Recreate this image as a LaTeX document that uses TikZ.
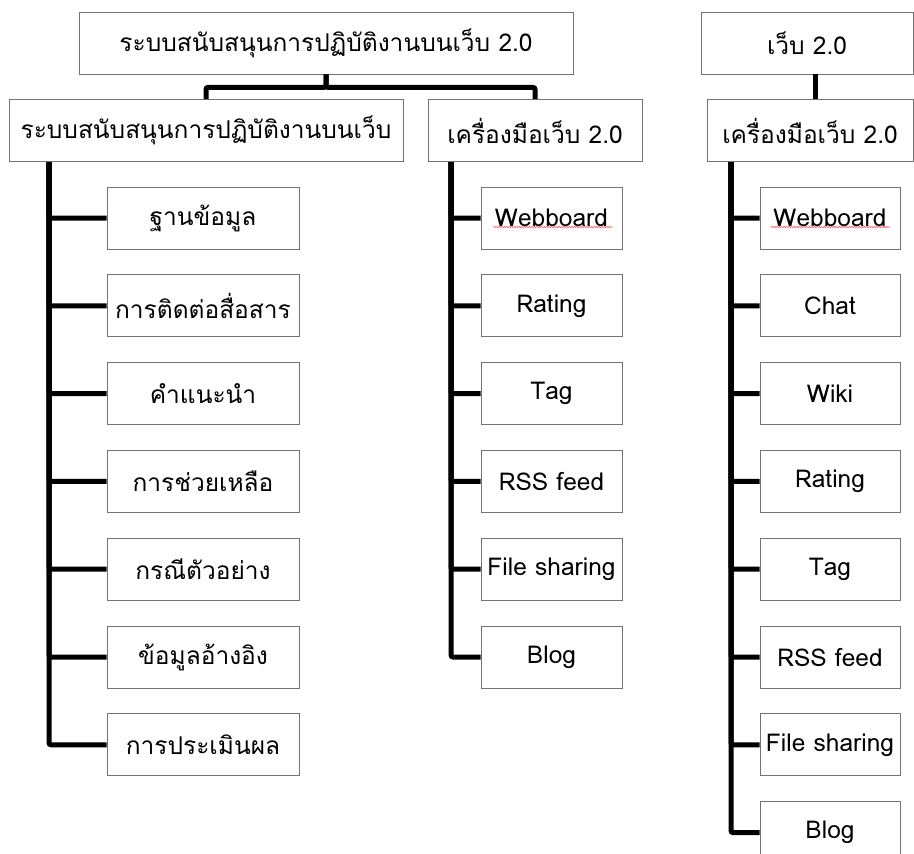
\documentclass[tikz,border=0pt]{standalone}
\usepackage{fontspec}
\setmainfont[Script=Thai]{Loma}
\usetikzlibrary{positioning, decorations.pathmorphing}
\tikzstyle{box} = [rectangle, draw=black!55, line width=0.8pt, minimum height=62pt, inner sep=2pt, text centered, font=\fontsize{24.5}{28}\selectfont]
\tikzstyle{lleaf} = [box, minimum width=192pt]
\tikzstyle{mleaf} = [box, minimum width=141pt]
\tikzstyle{rleaf} = [box, minimum width=140pt]
\tikzstyle{link} = [line width=5pt, rounded corners=2pt]
\tikzstyle{spell} = [red!65, line width=0.6pt, decorate, decoration={snake, amplitude=0.6pt, segment length=2.5pt}]

\begin{document}
\begin{tikzpicture}[x=1pt, y=-1pt, node distance=25pt]
  \useasboundingbox (0,0) rectangle (914,854);
  % upper levels
  \node (WSYS) [box, minimum width=494pt] at (326,43) {ระบบสนับสนุนการปฏิบัติงานบนเว็บ 2.0};
  \node (SYS) [box, minimum width=394pt] at (206,130.5) {ระบบสนับสนุนการปฏิบัติงานบนเว็บ};
  \node (TOOL) [box, minimum width=214pt] at (535,130.5) {เครื่องมือเว็บ 2.0};
  \node (WEB) [box, minimum width=212pt] at (807,43) {เว็บ 2.0};
  \node (TOOLR) [box, minimum width=206pt] at (810,130.5) {เครื่องมือเว็บ 2.0};

  % left column
  \node (DB) [lleaf] at (203,218) {ฐานข้อมูล};
  \node (COMM) [lleaf, below=of DB] {การติดต่อสื่อสาร};
  \node (ADV) [lleaf, below=of COMM] {คำแนะนำ};
  \node (HELP) [lleaf, below=of ADV] {การช่วยเหลือ};
  \node (CASE) [lleaf, below=of HELP] {กรณีตัวอย่าง};
  \node (REF) [lleaf, below=of CASE] {ข้อมูลอ้างอิง};
  \node (EVAL) [lleaf, below=of REF] {การประเมินผล};

  % middle column
  \node (WBRD) [mleaf] at (551.5,218) {Webboard};
  \node (RATE) [mleaf, below=of WBRD] {Rating};
  \node (TAG) [mleaf, below=of RATE] {Tag};
  \node (RSS) [mleaf, below=of TAG] {RSS feed};
  \node (FILE) [mleaf, below=of RSS] {File sharing};
  \node (BLOG) [mleaf, below=of FILE] {Blog};

  % right column
  \node (WBRDR) [rleaf] at (830,218) {Webboard};
  \node (CHATR) [rleaf, below=of WBRDR] {Chat};
  \node (WIKIR) [rleaf, below=of CHATR] {Wiki};
  \node (RATER) [rleaf, below=of WIKIR] {Rating};
  \node (TAGR) [rleaf, below=of RATER] {Tag};
  \node (RSSR) [rleaf, below=of TAGR] {RSS feed};
  \node (FILER) [rleaf, below=of RSSR] {File sharing};
  \node (BLOGR) [rleaf, below=of FILER] {Blog};

  \draw [spell] ([shift={(-58,9)}]WBRD.center) -- ++(119,0);
  \draw [spell] ([shift={(-59,9)}]WBRDR.center) -- ++(119,0);

  % trunks
  \coordinate (LT) at (49,162);
  \coordinate (MT) at (451,162);
  \coordinate (RT) at (731,162);

  \draw [link] (WSYS.south) -- ++(0,13) -| (SYS.north);
  \draw [link] (WSYS.south) -- ++(0,13) -| (TOOL.north);
  \draw [link] ([xshift=8pt]WEB.south) -- ([xshift=8pt]WEB.south |- TOOLR.north);

  \draw [link] (LT) |- (DB.west);
  \draw [link] (LT) |- (COMM.west);
  \draw [link] (LT) |- (ADV.west);
  \draw [link] (LT) |- (HELP.west);
  \draw [link] (LT) |- (CASE.west);
  \draw [link] (LT) |- (REF.west);
  \draw [link] (LT) |- (EVAL.west);

  \draw [link] (MT) |- (WBRD.west);
  \draw [link] (MT) |- (RATE.west);
  \draw [link] (MT) |- (TAG.west);
  \draw [link] (MT) |- (RSS.west);
  \draw [link] (MT) |- (FILE.west);
  \draw [link] (MT) |- (BLOG.west);

  \draw [link] (RT) |- (WBRDR.west);
  \draw [link] (RT) |- (CHATR.west);
  \draw [link] (RT) |- (WIKIR.west);
  \draw [link] (RT) |- (RATER.west);
  \draw [link] (RT) |- (TAGR.west);
  \draw [link] (RT) |- (RSSR.west);
  \draw [link] (RT) |- (FILER.west);
  \draw [link] (RT) |- (BLOGR.west);
\end{tikzpicture}
\end{document}
